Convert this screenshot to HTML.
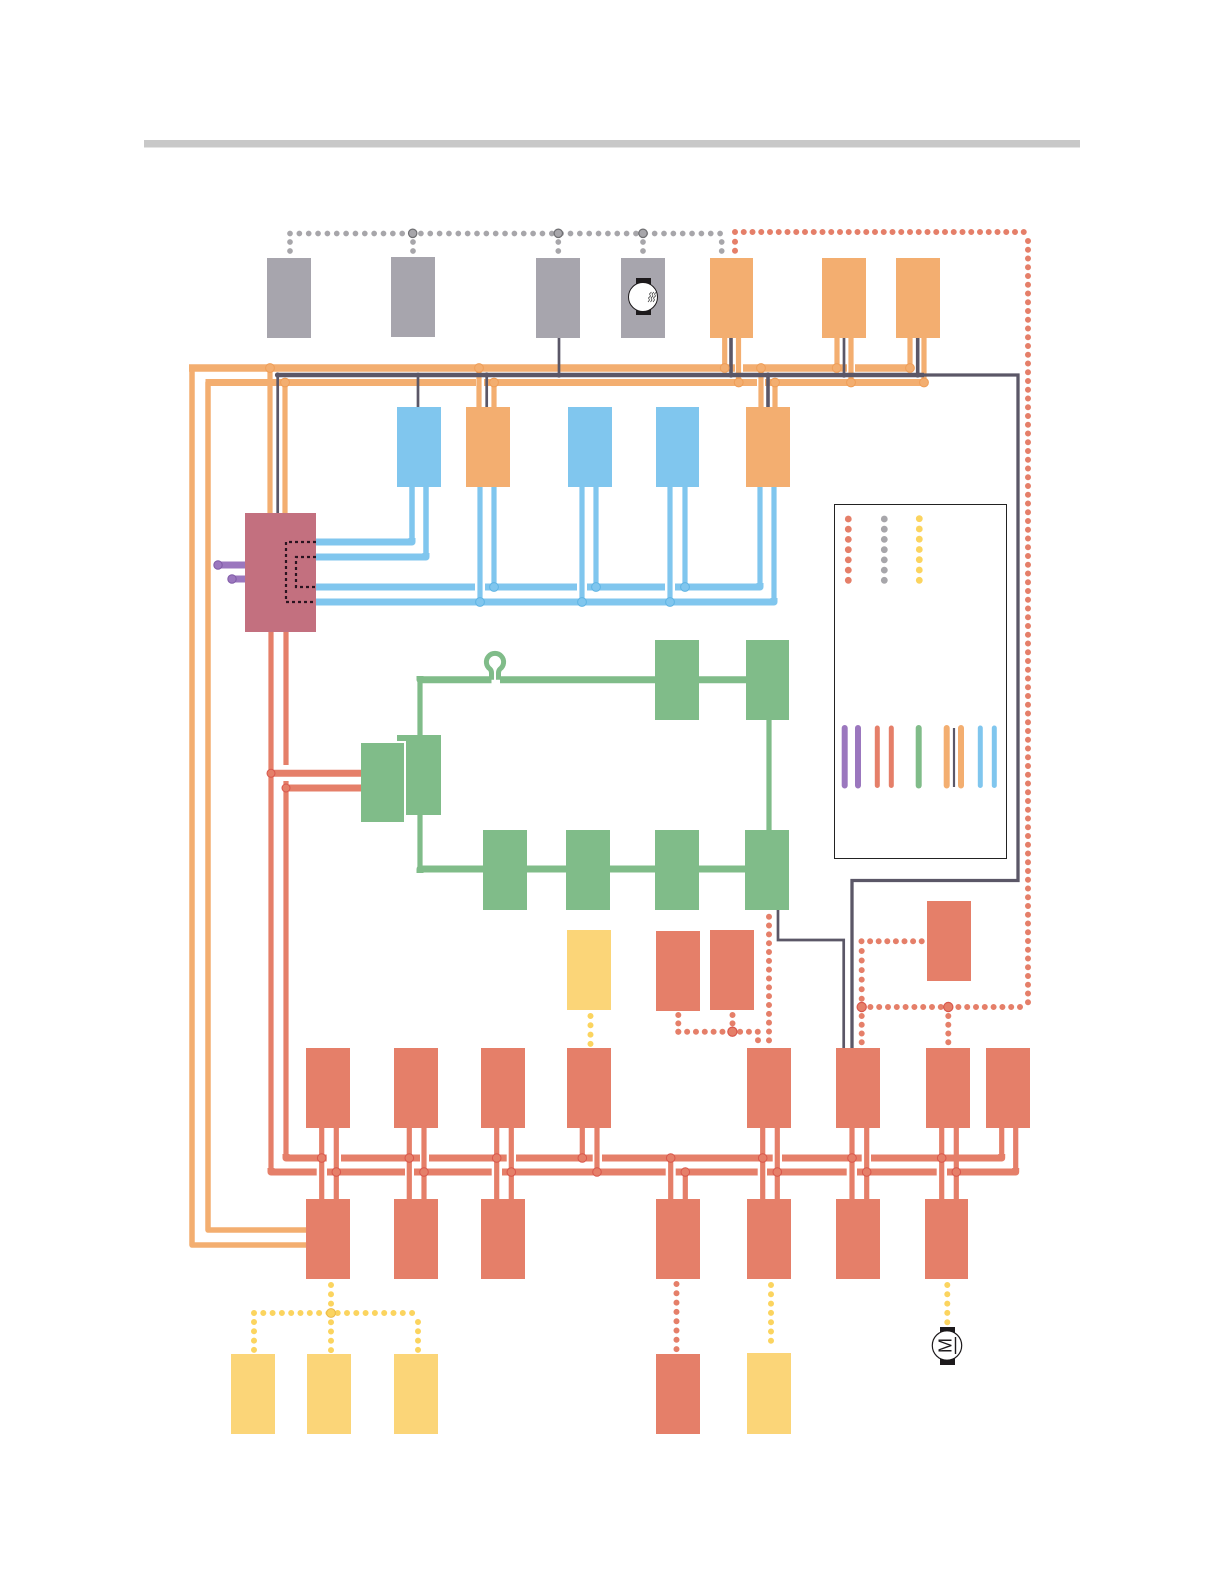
<!DOCTYPE html>
<html>
<head>
<meta charset="utf-8">
<style>
html,body{margin:0;padding:0;background:#fff;width:1224px;height:1584px;overflow:hidden}
svg{display:block}
</style>
</head>
<body>
<svg width="1224" height="1584" viewBox="0 0 1224 1584" xmlns="http://www.w3.org/2000/svg">
<rect x="144" y="140" width="936" height="7.5" fill="#c8c8c8"/>

<!-- dotted top -->
<g fill="none" stroke-linecap="round" stroke-width="6">
<g stroke="#a7a6aa" stroke-width="5.7">
<path d="M290 233.5H722" stroke-dasharray="0 9.35"/>
<path d="M290 242V252M413 242V252M558.3 242V252M643 242V252M721.7 242V252" stroke-dasharray="0 9"/>
</g>
<g stroke="#e57f69">
<path d="M735 232H1028" stroke-dasharray="0 8.75"/>
<path d="M1028 241V1007" stroke-dasharray="0 8.75"/>
<path d="M1020 1007H870" stroke-dasharray="0 8.8"/>
<path d="M735 241.7V251" stroke-dasharray="0 9"/>
<path d="M769 916.7V1041" stroke-dasharray="0 8.83"/>
<path d="M678.3 1015V1032" stroke-dasharray="0 8.35"/>
<path d="M678.3 1031.7H759" stroke-dasharray="0 8.83"/>
<path d="M758 1040.3V1041" stroke-dasharray="0 9"/>
<path d="M732.5 1015V1024" stroke-dasharray="0 8.35"/>
<path d="M921.7 941.3H861" stroke-dasharray="0 8.6"/>
<path d="M861.7 951V999" stroke-dasharray="0 9.55"/>
<path d="M861.7 1016V1043" stroke-dasharray="0 8.75"/>
<path d="M948.3 1016V1043" stroke-dasharray="0 8.75"/>
<path d="M676.5 1284V1352" stroke-dasharray="0 9.3"/>
</g>
<g stroke="#fbd45f" stroke-dasharray="0 9.3">
<path d="M590.5 1016V1046"/>
<path d="M331 1285V1352"/>
<path d="M254 1322V1350M418 1322V1350"/>
<path d="M254 1313H418"/>
<path d="M771 1285V1350"/>
<path d="M947.3 1285V1324"/>
</g>
</g>
<g stroke="#6f6f72" stroke-width="1.2" fill="#a7a6aa">
<circle cx="412.7" cy="233.3" r="4.2"/><circle cx="558.3" cy="233.3" r="4.2"/><circle cx="643" cy="233.3" r="4.2"/>
</g>
<g fill="#e57f69" stroke="#d9574c" stroke-width="1.2">
<circle cx="732.4" cy="1031.7" r="4.6"/><circle cx="861.7" cy="1007" r="4.6"/><circle cx="948.3" cy="1007" r="4.6"/>
</g>
<circle cx="331" cy="1313" r="4.4" fill="#fbd45f" stroke="#e8b84a" stroke-width="1"/>

<!-- orange -->
<g fill="none" stroke="#f3ae70" stroke-linejoin="round">
<path d="M306 1245H192V368H735M743 368H847M855 368H910" stroke-width="5.5"/>
<path d="M189 368H735M743 368H847M855 368H910" stroke-width="7.5"/>
<path d="M306 1230H208V382.5H476M484 382.5H757M765 382.5H924" stroke-width="5.5"/>
<path d="M205.5 382.5H476M484 382.5H757M765 382.5H924" stroke-width="7"/>
<path d="M270 368V513M285 382V513M479 368V407M494 382V407M761 368V407M775 382V407M724.7 338V368M738.5 338V382M837 338V368M851 338V382M910 338V368M924 338V382" stroke-width="5.2"/>
</g>

<!-- dark bus -->
<g fill="none" stroke="#5b5767">
<path d="M277 375H924" stroke-width="4.4"/>
<path d="M924 375H1018V880.5H852V1048" stroke-width="3.3"/>
<path d="M277.7 375V513M844 338V375M486.7 375V407M418 375V407M559 338V375" stroke-width="2.7"/>
<path d="M731 338V375M917.7 338V375M768 375V407" stroke-width="3.6"/>
<path d="M778 910V940H843.7V1048" stroke-width="2.7"/>
</g>
<g fill="#5b5767">
<circle cx="277.5" cy="375" r="2.6"/><circle cx="418" cy="375" r="2.4"/><circle cx="486.7" cy="375" r="2.6"/><circle cx="559" cy="375" r="2.6"/><circle cx="731" cy="375" r="2.6"/><circle cx="768" cy="375" r="2.6"/><circle cx="844" cy="375" r="2.6"/><circle cx="917.7" cy="375" r="2.6"/>
</g>

<g fill="#f3ae70" stroke="#ef9e58" stroke-width="1">
<circle cx="270" cy="368" r="4.4"/><circle cx="285" cy="382.5" r="4.4"/><circle cx="479" cy="368" r="4.4"/><circle cx="494" cy="382.5" r="4.4"/>
<circle cx="724.7" cy="368" r="4.4"/><circle cx="738.7" cy="382.5" r="4.4"/><circle cx="761" cy="368" r="4.4"/><circle cx="775" cy="382.5" r="4.4"/>
<circle cx="836.7" cy="368" r="4.4"/><circle cx="851" cy="382.5" r="4.4"/><circle cx="910" cy="368" r="4.4"/><circle cx="924" cy="382.5" r="4.4"/>
</g>

<!-- blue -->
<g fill="none" stroke="#80c6ee" stroke-linejoin="round">
<path d="M412 487V540M426 487V555" stroke-width="5.5"/>
<path d="M316 542H412V538M316 557H426V553M316 587H475M485 587H577M587 587H665M675 587H760V583M316 602H774V598" stroke-width="7"/>
<path d="M760 585V487M774 600V487M480 487V602M494 487V587M582 487V602M596 487V587M670 487V602M685 487V587" stroke-width="5.2"/>
</g>
<g fill="#80c6ee" stroke="#5fb4e4" stroke-width="1">
<circle cx="480" cy="602" r="4.4"/><circle cx="582" cy="602" r="4.4"/><circle cx="670" cy="602" r="4.4"/>
<circle cx="494" cy="587" r="4.4"/><circle cx="596" cy="587" r="4.4"/><circle cx="685" cy="587" r="4.4"/>
</g>

<!-- purple -->
<g stroke="#9b77be" stroke-width="7"><path d="M218 565H245M232 579H245"/></g>
<g fill="#9b77be" stroke="#7f5aa6" stroke-width="1"><circle cx="218" cy="565" r="4.2"/><circle cx="232" cy="579" r="4.2"/></g>

<!-- red -->
<g fill="none" stroke="#e57f69" stroke-linejoin="round">
<path d="M271 632V1170M286 632V765M286 781V1156" stroke-width="5.2"/>
<path d="M271 773.3H361M286 788H361" stroke-width="7"/>
<path d="M271 1168V1172H316.7M327 1172H405M414 1172H491.7M502 1172H665.7M675.7 1172H757.7M767 1172H846.7M857 1172H936.7M947 1172H1015.7V1168" stroke-width="7"/>
<path d="M286 1154V1158H326.7M341 1158H420M429 1158H506.7M516 1158H592.7M602 1158H772.7M782 1158H861.7M871 1158H1001.7V1154" stroke-width="7"/>
<path d="M1001.7 1128V1156M1015.7 1128V1170M582.3 1128V1158M597 1128V1172" stroke-width="5.2"/>
<path d="M321.7 1128V1199M336.3 1128V1199M409.3 1128V1199M424 1128V1199M496.7 1128V1199M511.3 1128V1199M670.7 1158V1199M685.3 1172V1199M762.7 1128V1199M777.3 1128V1199M852 1128V1199M866.7 1128V1199M941.7 1128V1199M956.3 1128V1199" stroke-width="5.2"/>
</g>
<g fill="#e57f69" stroke="#d9574c" stroke-width="1">
<circle cx="271" cy="773.3" r="4"/><circle cx="286" cy="788" r="4"/>
<circle cx="321.7" cy="1158" r="4.3"/><circle cx="409.3" cy="1158" r="4.3"/><circle cx="496.7" cy="1158" r="4.3"/><circle cx="582.3" cy="1158" r="4.3"/><circle cx="670.7" cy="1158" r="4.3"/><circle cx="762.7" cy="1158" r="4.3"/><circle cx="852" cy="1158" r="4.3"/><circle cx="941.7" cy="1158" r="4.3"/>
<circle cx="336.3" cy="1172" r="4.3"/><circle cx="424" cy="1172" r="4.3"/><circle cx="511.3" cy="1172" r="4.3"/><circle cx="597" cy="1172" r="4.3"/><circle cx="685.3" cy="1172" r="4.3"/><circle cx="777.3" cy="1172" r="4.3"/><circle cx="866.7" cy="1172" r="4.3"/><circle cx="956.3" cy="1172" r="4.3"/>
</g>

<!-- green lines -->
<g fill="none" stroke="#80bc89" stroke-linejoin="round">
<path d="M420 735V679.7M420 815V869" stroke-width="5.2"/>
<path d="M491.5 679.7V673Q491.5 670.5 490 669A8.6 8.6 0 1 1 500 669Q498.5 670.5 498.5 673V679.7" stroke-width="5"/>
<path d="M420 676V679.7H491.5M500 679.7H655M699 679.7H746M420 873V869H483M527 869H566M610 869H655M699 869H745" stroke-width="7"/>
<path d="M769 720V830" stroke-width="5.2"/>
</g>

<!-- rects -->
<g fill="#a7a5ad">
<rect x="267" y="258" width="44" height="80"/><rect x="391" y="257" width="44" height="80"/><rect x="536" y="258" width="44" height="80"/><rect x="621" y="258" width="44" height="80"/>
</g>
<g fill="#f3ae70">
<rect x="710" y="258" width="43" height="80"/><rect x="822" y="258" width="44" height="80"/><rect x="896" y="258" width="44" height="80"/>
<rect x="466" y="407" width="44" height="80"/><rect x="746" y="407" width="44" height="80"/>
</g>
<g fill="#80c6ee">
<rect x="397" y="407" width="44" height="80"/><rect x="568" y="407" width="44" height="80"/><rect x="656" y="407" width="43" height="80"/>
</g>
<rect x="245" y="513" width="71" height="119" fill="#c3707f"/>
<g fill="none" stroke="#2a1420" stroke-width="2.2" stroke-dasharray="3 3">
<path d="M316 542H286V602H316"/>
<path d="M316 557H296V587H316"/>
</g>
<g fill="#80bc89">
<rect x="361" y="743" width="43" height="79"/>
<rect x="406" y="735" width="35" height="80"/>
<rect x="397" y="735" width="10" height="6"/>
<rect x="655" y="640" width="44" height="80"/><rect x="746" y="640" width="43" height="80"/>
<rect x="483" y="830" width="44" height="80"/><rect x="566" y="830" width="44" height="80"/><rect x="655" y="830" width="44" height="80"/><rect x="745" y="830" width="44" height="80"/>
</g>
<g fill="#e57f69">
<rect x="656" y="931" width="44" height="80"/><rect x="710" y="930" width="44" height="80"/><rect x="927" y="901" width="44" height="80"/>
<rect x="306" y="1048" width="44" height="80"/><rect x="394" y="1048" width="44" height="80"/><rect x="481" y="1048" width="44" height="80"/><rect x="567" y="1048" width="44" height="80"/><rect x="747" y="1048" width="44" height="80"/><rect x="836" y="1048" width="44" height="80"/><rect x="926" y="1048" width="44" height="80"/><rect x="986" y="1048" width="44" height="80"/>
<rect x="306" y="1199" width="44" height="80"/><rect x="394" y="1199" width="44" height="80"/><rect x="481" y="1199" width="44" height="80"/><rect x="656" y="1199" width="44" height="80"/><rect x="747" y="1199" width="44" height="80"/><rect x="836" y="1199" width="44" height="80"/><rect x="925" y="1199" width="43" height="80"/>
<rect x="656" y="1354" width="44" height="80"/>
</g>
<g fill="#fbd578">
<rect x="567" y="930" width="44" height="80"/>
<rect x="231" y="1354" width="44" height="80"/><rect x="307" y="1354" width="44" height="80"/><rect x="394" y="1354" width="44" height="80"/><rect x="747" y="1353" width="44" height="81"/>
</g>

<!-- motor in grey box -->
<rect x="636" y="278" width="15" height="37" fill="#1d1a1c"/>
<circle cx="643" cy="297" r="14.5" fill="#fff" stroke="#1d1a1c" stroke-width="1"/>
<g fill="none" stroke="#333" stroke-width="0.7">
<path d="M648 302l1.5-2-1-2 2-2-1-2 2-2"/><path d="M650.5 302l1.5-2-1-2 2-2-1-2 2-2"/><path d="M653 302l1.5-2-1-2 2-2-1-2 2-2"/>
</g>

<!-- motor bottom -->
<rect x="940" y="1327" width="15" height="38" fill="#1d1a1c"/>
<circle cx="947" cy="1345.5" r="14.7" fill="#fff" stroke="#1d1a1c" stroke-width="1.2"/>
<text x="0" y="0" transform="translate(951.5 1345.5) rotate(-90)" text-anchor="middle" font-family="'Liberation Sans',sans-serif" font-size="18" fill="#1d1a1c">M</text>
<path d="M955.5 1337V1354" stroke="#1d1a1c" stroke-width="1.4"/>

<!-- legend -->
<rect x="834.5" y="504.5" width="172" height="354" fill="none" stroke="#222" stroke-width="1"/>
<g fill="#e57f69">
<circle cx="848.3" cy="519" r="3.4"/><circle cx="848.3" cy="529.2" r="3.4"/><circle cx="848.3" cy="539.4" r="3.4"/><circle cx="848.3" cy="549.7" r="3.4"/><circle cx="848.3" cy="559.9" r="3.4"/><circle cx="848.3" cy="570.1" r="3.4"/><circle cx="848.3" cy="580.3" r="3.4"/>
</g>
<g fill="#a7a6aa">
<circle cx="884.3" cy="519" r="3.4"/><circle cx="884.3" cy="529.2" r="3.4"/><circle cx="884.3" cy="539.4" r="3.4"/><circle cx="884.3" cy="549.7" r="3.4"/><circle cx="884.3" cy="559.9" r="3.4"/><circle cx="884.3" cy="570.1" r="3.4"/><circle cx="884.3" cy="580.3" r="3.4"/>
</g>
<g fill="#fbd45f">
<circle cx="919.3" cy="518.7" r="3.4"/><circle cx="919.3" cy="529" r="3.4"/><circle cx="919.3" cy="539.2" r="3.4"/><circle cx="919.3" cy="549.5" r="3.4"/><circle cx="919.3" cy="559.7" r="3.4"/><circle cx="919.3" cy="570" r="3.4"/><circle cx="919.3" cy="580.3" r="3.4"/>
</g>
<g fill="none" stroke-linecap="round">
<path d="M844.7 728V785.5M858 728V785.5" stroke="#9b77be" stroke-width="6"/>
<path d="M877.3 728V785.5M891.3 728V785.5" stroke="#e57f69" stroke-width="5"/>
<path d="M918.7 728V785.5" stroke="#80bc89" stroke-width="6"/>
<path d="M946.7 728V785.5M961 728V785.5" stroke="#f3ae70" stroke-width="6"/>
<path d="M954 728V787" stroke="#5b5767" stroke-width="2.2" stroke-linecap="butt"/>
<path d="M980.3 728V785.5M994.3 728V785.5" stroke="#80c6ee" stroke-width="5"/>
</g>
</svg>
</body>
</html>
